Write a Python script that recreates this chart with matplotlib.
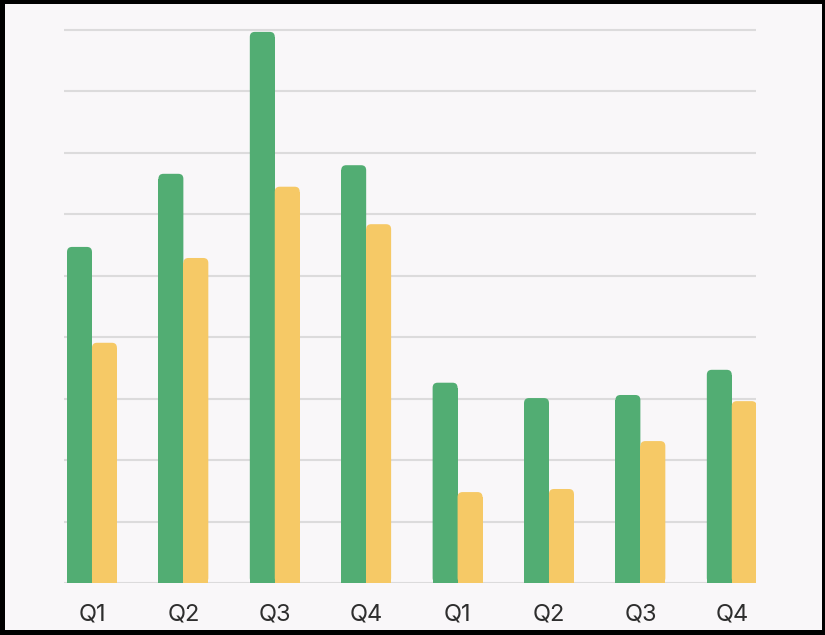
"""Grouped quarterly bars (two years, two series) with rounded tops."""

import matplotlib.pyplot as plt
import numpy as np
from matplotlib.patches import FancyBboxPatch, Rectangle

quarters = ["Q1", "Q2", "Q3", "Q4", "Q1", "Q2", "Q3", "Q4"]
series_a = [5.47, 6.66, 8.97, 6.80, 3.26, 3.01, 3.06, 3.47]
series_b = [3.91, 5.29, 6.45, 5.84, 1.48, 1.53, 2.31, 2.96]

GREEN = "#52ad73"
YELLOW = "#f6c966"
BG = "#f9f7f9"
GRID = "#dcdbdc"

W, H = 825, 635
fig = plt.figure(figsize=(W / 100, H / 100), dpi=100, facecolor="black")
# light panel inside the black frame
fig.add_artist(Rectangle((5 / W, 5 / H), (822 - 5) / W, (630 - 4) / H,
                         transform=fig.transFigure, facecolor=BG,
                         edgecolor="none", zorder=0))

ymax = 9.2
unit_px = 61.44
ax = fig.add_axes([64 / W, 52 / H, (756 - 64) / W, ymax * unit_px / H])
ax.set_facecolor("none")

x = np.arange(len(quarters))
bw = 0.273
ax.set_xlim(-0.306, 7.265)
ax.set_ylim(0, ymax)

for v in range(0, 10):
    ax.axhline(v, color=GRID, lw=1.5, zorder=1)

# rounding radius in px -> data units
x_unit = (756 - 64) / (7.265 + 0.306)
r_px = 5
rx = r_px / x_unit
ry = r_px / unit_px


def rounded_bar(xl, h, color):
    ax.add_patch(FancyBboxPatch((xl, 0), bw, h,
                                boxstyle=f"round,pad=0,rounding_size={rx}",
                                mutation_aspect=ry / rx, facecolor=color,
                                edgecolor="none", zorder=2))
    # square off the bottom
    ax.add_patch(Rectangle((xl, 0), bw, h - ry, facecolor=color,
                           edgecolor="none", zorder=2))


for xi, a, b in zip(x, series_a, series_b):
    rounded_bar(xi - bw, a, GREEN)
    rounded_bar(xi, b, YELLOW)

ax.set_xticks(x)
ax.set_xticklabels(quarters, fontsize=17, family="Inter", color="#2e2e2e")
ax.tick_params(axis="x", length=0, pad=15)
ax.set_yticks([])
for s in ax.spines.values():
    s.set_visible(False)

fig.savefig("out.png", dpi=100, facecolor=fig.get_facecolor())
